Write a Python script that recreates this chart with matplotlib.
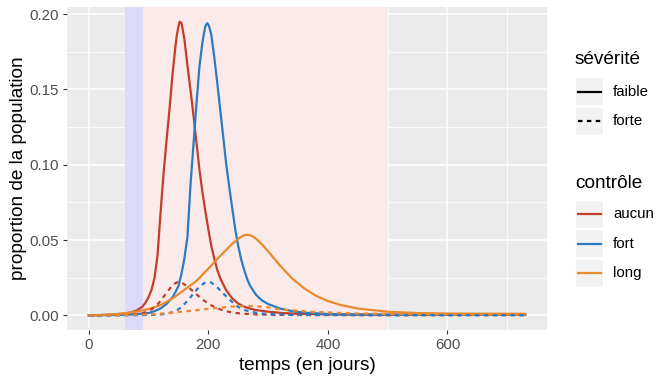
import matplotlib
matplotlib.use('Agg')

import matplotlib.pyplot as plt
from matplotlib.lines import Line2D
from matplotlib.patches import Rectangle

plt.rcParams['font.family'] = ['Liberation Sans', 'DejaVu Sans']

# périodes de contrôle (jours)
periode_courte = (60, 90)
periode_longue = (90, 500)

# contrôle "aucun"
jours_aucun = [0, 20, 40, 60, 70, 80, 90, 95, 100, 105, 110, 115, 120, 125, 130, 135, 140, 145,
               147, 150, 152, 155, 157, 160, 165, 170, 175, 180, 185, 190, 195, 200, 205, 210,
               215, 220, 230, 240, 250, 260, 270, 280, 300, 325, 350, 400, 500, 600, 730]
aucun_faible = [0.0, 0.0002, 0.0005, 0.0012, 0.0019, 0.0032, 0.0058, 0.0085, 0.0122, 0.0170,
                0.0250, 0.0400, 0.0680, 0.0940, 0.1160, 0.1370, 0.1600, 0.1790, 0.1855, 0.1920,
                0.1950, 0.1940, 0.1900, 0.1830, 0.1660, 0.1500, 0.1330, 0.1150, 0.0970, 0.0820,
                0.0690, 0.0570, 0.0460, 0.0375, 0.0300, 0.0245, 0.0165, 0.0112, 0.0078, 0.0057,
                0.0044, 0.0035, 0.0024, 0.0015, 0.0010, 0.0006, 0.0004, 0.0003, 0.0003]
aucun_forte = [0.0, 0.00003, 0.0001, 0.0002, 0.0004, 0.0008, 0.0015, 0.0020, 0.0028, 0.0040,
               0.0055, 0.0073, 0.0095, 0.0122, 0.0150, 0.0175, 0.0198, 0.0214, 0.0218, 0.0221,
               0.0221, 0.0218, 0.0213, 0.0205, 0.0191, 0.0175, 0.0158, 0.0140, 0.0123, 0.0106,
               0.0091, 0.0078, 0.0066, 0.0056, 0.0047, 0.0039, 0.0027, 0.0019, 0.0014, 0.0010,
               0.0008, 0.0006, 0.0004, 0.0003, 0.0002, 0.0002, 0.0001, 0.0001, 0.0001]

# contrôle "fort"
jours_fort = [0, 20, 40, 60, 80, 100, 110, 120, 130, 140, 145, 150, 155, 160, 165, 170, 175, 180,
              185, 190, 193, 195, 198, 200, 202, 205, 210, 215, 220, 225, 230, 235, 240, 245, 250,
              255, 260, 265, 270, 280, 290, 300, 320, 340, 360, 400, 450, 500, 600, 730]
fort_faible = [0.0, 0.0001, 0.0002, 0.0004, 0.0008, 0.0015, 0.0028, 0.0045, 0.0075, 0.0120,
               0.0155, 0.0195, 0.0275, 0.0380, 0.0520, 0.0860, 0.1130, 0.1400, 0.1650, 0.1810,
               0.1880, 0.1920, 0.1940, 0.1930, 0.1910, 0.1860, 0.1710, 0.1540, 0.1360, 0.1180,
               0.1000, 0.0850, 0.0710, 0.0570, 0.0460, 0.0370, 0.0300, 0.0240, 0.0195, 0.0135,
               0.0098, 0.0075, 0.0045, 0.0028, 0.0018, 0.0009, 0.0005, 0.0004, 0.0003, 0.0003]
fort_forte = [0.0, 0.0, 0.00002, 0.00005, 0.0001, 0.0002, 0.0004, 0.0006, 0.0011, 0.0020,
              0.0029, 0.0040, 0.0055, 0.0075, 0.0097, 0.0120, 0.0145, 0.0168, 0.0188, 0.0205,
              0.0213, 0.0218, 0.0221, 0.0221, 0.0220, 0.0217, 0.0202, 0.0185, 0.0165, 0.0145,
              0.0125, 0.0106, 0.0088, 0.0071, 0.0055, 0.0045, 0.0036, 0.0030, 0.0025, 0.0017,
              0.0012, 0.0009, 0.0005, 0.0003, 0.0002, 0.0002, 0.0001, 0.0001, 0.0001, 0.0001]

# contrôle "long"
jours_long = [0, 20, 40, 60, 80, 100, 120, 140, 160, 180, 200, 220, 240, 250, 255, 260, 265,
              270, 275, 280, 290, 300, 320, 340, 360, 380, 400, 420, 450, 500, 550, 600, 650, 730]
long_faible = [0.0, 0.0002, 0.0006, 0.0013, 0.0025, 0.0042, 0.0068, 0.0112, 0.0170, 0.0228,
               0.0310, 0.0395, 0.0475, 0.0508, 0.0522, 0.0532, 0.0535, 0.0532, 0.0522, 0.0508,
               0.0470, 0.0425, 0.0330, 0.0245, 0.0180, 0.0130, 0.0095, 0.0070, 0.0045, 0.0024,
               0.0015, 0.0012, 0.0011, 0.0010]
long_forte = [0.0, 0.00003, 0.0001, 0.0002, 0.0004, 0.0007, 0.0011, 0.0018, 0.0026, 0.0034,
              0.0043, 0.0051, 0.0058, 0.0060, 0.0061, 0.0062, 0.0062, 0.0062, 0.0061, 0.0060,
              0.0057, 0.0053, 0.0040, 0.0033, 0.0027, 0.0022, 0.0019, 0.0016, 0.0012, 0.0009,
              0.0007, 0.0006, 0.0005, 0.0005]

controles = ['aucun', 'fort', 'long']
couleurs = {'aucun': '#C43D28', 'fort': '#2B7BC3', 'long': '#E88A2D'}
severites = ['faible', 'forte']
tirets = {'faible': '-', 'forte': (0, (2.0, 2.0))}

series = {
    'aucun': (jours_aucun, aucun_faible, aucun_forte),
    'fort': (jours_fort, fort_faible, fort_forte),
    'long': (jours_long, long_faible, long_forte),
}

W, H = 661, 378
fig = plt.figure(figsize=(W / 100, H / 100), dpi=100)
ax = fig.add_axes([67 / W, 1 - 330 / H, (547 - 67) / W, (330 - 7) / H])

ax.set_facecolor('#EBEBEB')
for s in ax.spines.values():
    s.set_visible(False)

ax.set_xlim(-36.5, 766.5)
ax.set_ylim(-0.00975, 0.20475)
ax.set_xticks([0, 200, 400, 600])
ax.set_xticks([100, 300, 500, 700], minor=True)
ax.set_yticks([0, 0.05, 0.10, 0.15, 0.20])
ax.set_yticklabels(['0.00', '0.05', '0.10', '0.15', '0.20'])
ax.set_yticks([0.025, 0.075, 0.125, 0.175], minor=True)
ax.set_axisbelow(True)
ax.grid(True, which='major', color='white', lw=1.1)
ax.grid(True, which='minor', color='white', lw=0.55)
ax.tick_params(which='major', length=2.9, width=0.8, color='#333333',
               labelsize=10.8, labelcolor='#4D4D4D', pad=3)
ax.tick_params(which='minor', length=0)

# zones de contrôle (opaques, par-dessus la grille)
ax.axvspan(*periode_courte, color='#DDD9F8', lw=0, zorder=1)
ax.axvspan(*periode_longue, color='#FAEBEA', lw=0, zorder=1)

for c in controles:
    jours, faible, forte = series[c]
    ax.plot(jours, faible, color=couleurs[c], lw=1.6, ls=tirets['faible'], zorder=2)
for c in controles:
    jours, faible, forte = series[c]
    ax.plot(jours, forte, color=couleurs[c], lw=1.6, ls=tirets['forte'], zorder=2)

ax.set_xlabel('temps (en jours)', fontsize=13.7, labelpad=3.5)
ax.set_ylabel('proportion de la population', fontsize=13.7, labelpad=1.5)


# légendes (coordonnées en pixels de la figure)
def fx(x):
    return x / W


def fy(y):
    return 1 - y / H


def legende(titre, y_titre, etiquettes, styles, y0):
    fig.text(fx(575), fy(y_titre), titre, fontsize=13.7, va='center', ha='left')
    for i, (lab, (col, ls)) in enumerate(zip(etiquettes, styles)):
        yc = y0 + i * 29.5
        fig.patches.append(Rectangle((fx(576), fy(yc + 13.5)), 27 / W, 27 / H,
                                     transform=fig.transFigure, color='#F2F2F2', lw=0))
        fig.lines.append(Line2D([fx(578), fx(601)], [fy(yc), fy(yc)], transform=fig.transFigure,
                                color=col, lw=1.6, ls=ls))
        fig.text(fx(613), fy(yc), lab, fontsize=10.8, va='center', ha='left')


legende('sévérité', 60, severites, [('black', tirets[s]) for s in severites], 91.5)
legende('contrôle', 183, controles, [(couleurs[c], '-') for c in controles], 214)

fig.savefig('out.png', dpi=100)
